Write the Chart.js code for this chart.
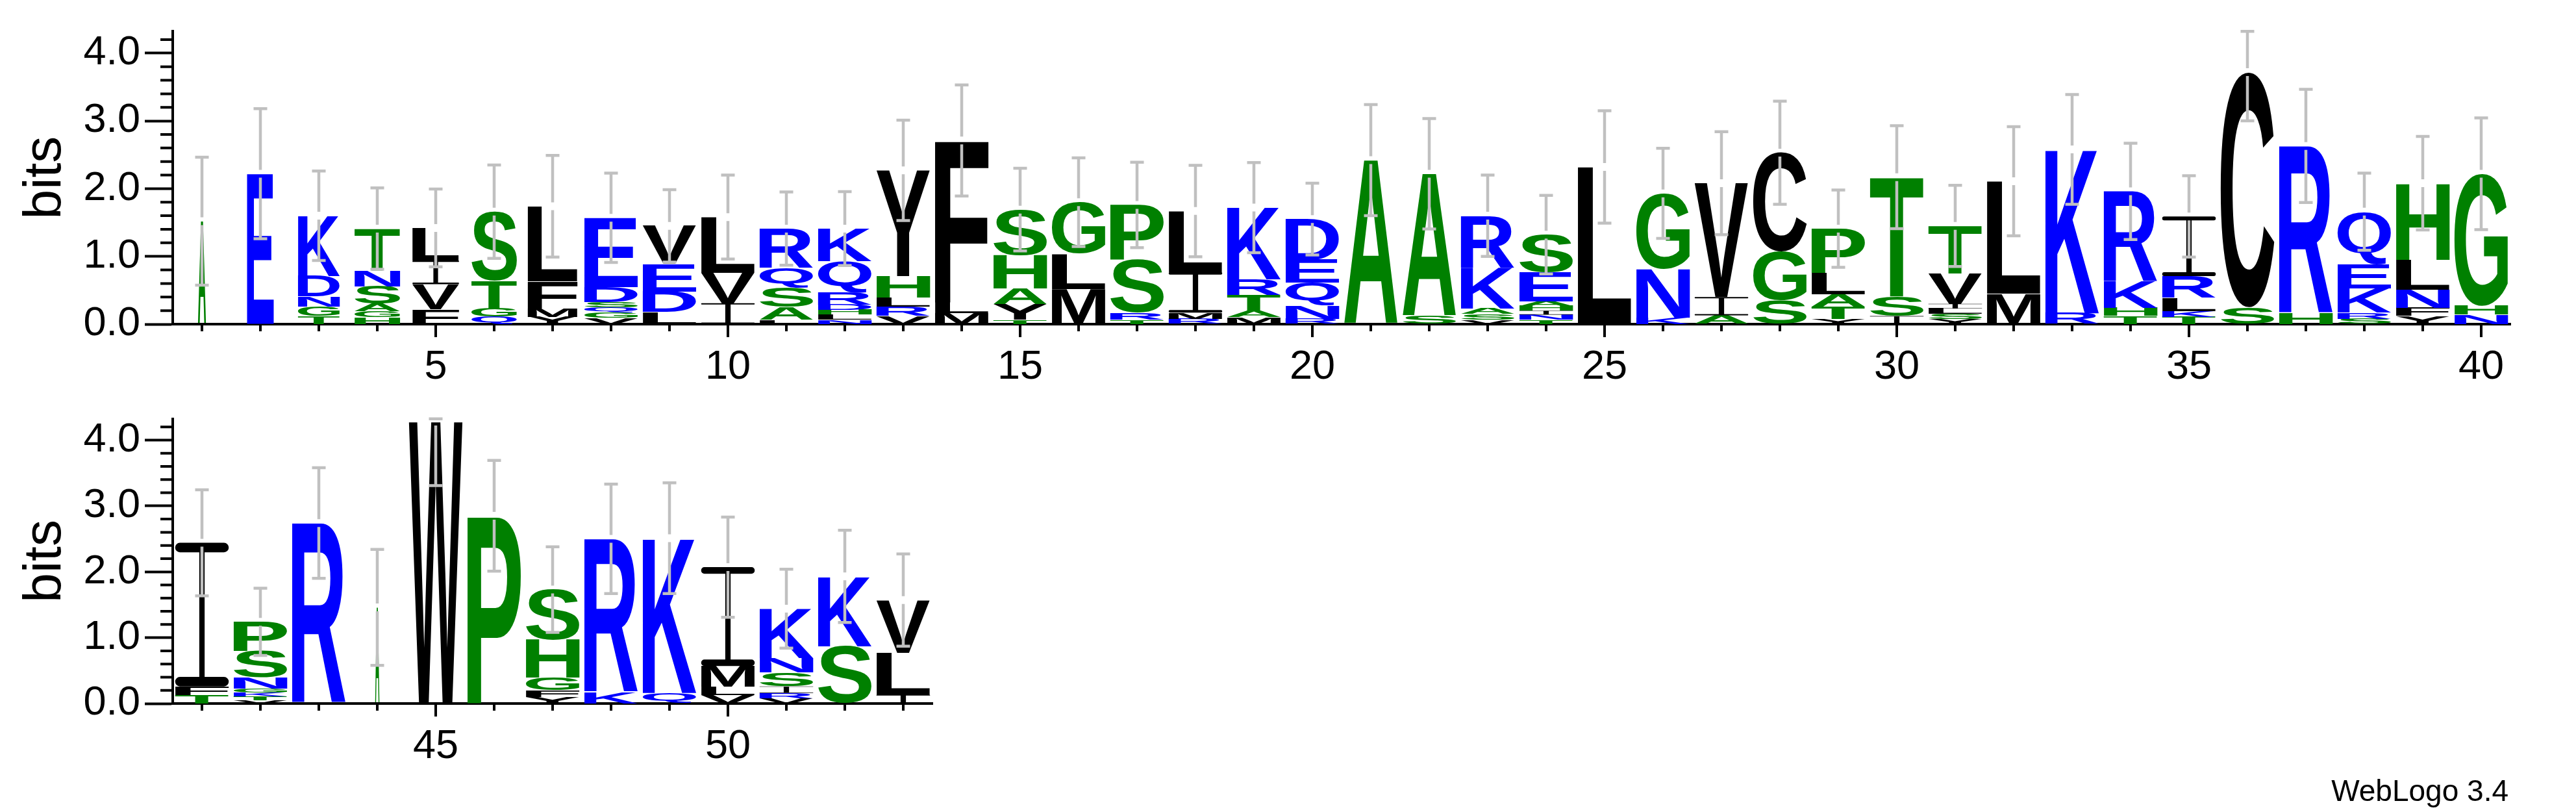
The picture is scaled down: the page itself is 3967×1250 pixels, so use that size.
<!DOCTYPE html>
<html>
<head>
<meta charset="utf-8">
<script src="https://cdn.jsdelivr.net/npm/chart.js@4.4.1/dist/chart.umd.min.js"></script>
<style>
  html, body { margin: 0; padding: 0; background: #fff; }
  #wrap { position: relative; width: 3967px; height: 1250px; overflow: hidden; background: #fff; }
  canvas { position: absolute; left: 0; }
  #topLogo { top: 0; }
  #bottomLogo { top: 600px; }
  #credit { position: absolute; right: 104px; top: 1194px; font: 46px "Liberation Sans", Arial, sans-serif; line-height: 46px; color: #000; }
</style>
</head>
<body>
<div id="wrap">
  <canvas id="topLogo" width="3967" height="610"></canvas>
  <canvas id="bottomLogo" width="3967" height="650"></canvas>
  <div id="credit">WebLogo 3.4</div>
</div>
<script>
// sequence positions (x categories)
const positions = [1,2,3,4,5,6,7,8,9,10,11,12,13,14,15,16,17,18,19,20,
  21,22,23,24,25,26,27,28,29,30,31,32,33,34,35,36,37,38,39,40,
  41,42,43,44,45,46,47,48,49,50,51,52,53];

// residues in each stack, bottom to top
const stackLetters = [
  "A","E","TGNDK","HGASNT","FVIL","QGTS","YMFL","VGQSDE","LDEV","IVL",
  "LASQR","NLHDRQK","VRLHY","MLF","TYAHS","MLG","TRSP","RMIL","MATRK","RNQED",
  "A","SA","VSAKR","TNIHAES","L","KNG","AIV","SGC","YTALP","IST",
  "YSLIVT","ML","RK","THKR","TKLRI","SC","HR","SRKEQ","YFNLH","NHG",
  "TFI","VTKGNSP","R","A","W","P","YFGHS","KR","QK","VLMI",
  "VRISNK","SK","ILV"
];

// height of each residue in bits, same order
const stackBits = [
  [1.52],[2.22],[0.12,0.14,0.15,0.30,0.89],[0.10,0.09,0.11,0.26,0.23,0.62],[0.22,0.37,0.35,0.48],
  [0.11,0.12,0.41,1.02],[0.11,0.12,0.40,1.11],[0.09,0.08,0.08,0.08,0.22,1.02],[0.18,0.30,0.41,0.56],[0.31,0.45,0.82],
  [0.07,0.18,0.29,0.29,0.58],[0.07,0.07,0.07,0.08,0.18,0.46,0.48],[0.12,0.14,0.13,0.32,1.56],[0.16,0.16,2.39],[0.07,0.23,0.23,0.49,0.67],
  [0.52,0.52,0.76],[0.07,0.10,0.78,0.81],[0.08,0.09,0.60,0.90],[0.10,0.10,0.23,0.23,1.06],[0.08,0.20,0.33,0.34,0.60],
  [2.42],[0.12,2.10],[0.07,0.08,0.08,0.60,0.77],[0.07,0.07,0.06,0.07,0.07,0.43,0.55],[2.32],
  [0.10,0.72,1.11],[0.13,0.27,1.68],[0.35,0.72,1.46],[0.08,0.18,0.18,0.32,0.65],[0.12,0.29,1.76],
  [0.08,0.07,0.08,0.07,0.45,0.70],[0.45,1.66],[0.16,2.42],[0.12,0.12,0.39,1.33],[0.11,0.08,0.20,0.32,0.88],
  [0.25,3.47],[0.16,2.47],[0.08,0.09,0.36,0.36,0.77],[0.12,0.12,0.27,0.44,1.13],[0.14,0.13,1.95],
  [0.13,0.13,2.18],[0.05,0.06,0.06,0.06,0.17,0.40,0.44],[2.74],[1.46],[4.28],
  [2.85],[0.10,0.10,0.19,0.58,0.76],[0.17,2.33],[0.16,2.35],[0.13,0.13,0.31,1.50],
  [0.08,0.08,0.10,0.21,0.22,0.75],[0.87,1.06],[0.13,0.64,0.80]
];

// stack width as fraction of a full column (occupancy)
const stackWidth = [
  0.15,0.50,0.78,0.85,0.87,0.85,0.93,1,1,1,
  1,1,1,1,1,1,1,1,1,1,
  1,1,1,1,1,1,1,1,1,1,
  1,1,1,1,1,1,1,1,1,1,
  1,1,1,0.08,1,1,1,1,1,1,
  1,1,1
];

// error bar half-length in bits
const errorBits = [
  0.945,0.96,0.66,0.60,0.575,0.69,0.75,0.66,0.535,0.62,
  0.54,0.545,0.74,0.82,0.61,0.655,0.63,0.675,0.665,0.53,
  0.82,0.815,0.60,0.58,0.83,0.665,0.76,0.76,0.57,0.76,
  0.60,0.805,0.81,0.71,0.60,0.72,0.835,0.57,0.69,0.825,
  0.805,0.51,0.84,0.88,0.97,0.84,0.65,0.83,0.84,0.76,
  0.60,0.70,0.70
];

const yTickValues = [0, 1, 2, 3, 4];
const labelledPositions = [5, 10, 15, 20, 25, 30, 35, 40, 45, 50];
const maxBits = Math.log2(20);

Chart.defaults.font.family = '"Liberation Sans", Arial, sans-serif';
Chart.defaults.color = '#000';

function residueColour(ch) {
  if ("RKDENQ".includes(ch)) return '#0000ff';
  if ("SGHTAP".includes(ch)) return '#008000';
  return '#000000';
}

// the logo's I is a thin stem between two rounded bars
function drawI(ctx, left, top, w, h) {
  const bar = h * 0.066;
  const stem = w * 0.1;
  ctx.save();
  ctx.fillStyle = '#000';
  ctx.beginPath();
  if (ctx.roundRect && bar > 1) {
    ctx.roundRect(left, top, w, bar, bar / 2);
    ctx.roundRect(left, top + h - bar, w, bar, bar / 2);
  } else {
    ctx.rect(left, top, w, Math.max(bar, 0.6));
    ctx.rect(left, top + h - Math.max(bar, 0.6), w, Math.max(bar, 0.6));
  }
  ctx.rect(left + (w - stem) / 2, top, stem, h);
  ctx.fill();
  ctx.restore();
}

const glyphBoxes = {};
function drawGlyph(ctx, ch, left, top, w, h) {
  if (ch === 'I') { drawI(ctx, left, top, w, h); return; }
  ctx.save();
  ctx.font = 'bold 200px "Liberation Sans", Arial';
  if (!glyphBoxes[ch]) glyphBoxes[ch] = ctx.measureText(ch);
  const m = glyphBoxes[ch];
  const inkW = m.actualBoundingBoxLeft + m.actualBoundingBoxRight;
  const inkH = m.actualBoundingBoxAscent + m.actualBoundingBoxDescent;
  ctx.translate(left, top);
  ctx.scale(w / inkW, h / inkH);
  ctx.textAlign = 'left';
  ctx.textBaseline = 'alphabetic';
  ctx.fillStyle = residueColour(ch);
  ctx.fillText(ch, m.actualBoundingBoxLeft, m.actualBoundingBoxAscent);
  ctx.restore();
}

const logoPlugin = {
  id: 'logoGlyphs',
  afterDatasetsDraw(chart) {
    const ctx = chart.ctx;
    const labels = chart.data.labels;
    chart.data.datasets.forEach((ds, k) => {
      chart.getDatasetMeta(k).data.forEach((bar, j) => {
        const ch = ds.letters[j];
        if (!ch || ds.data[j] == null) return;
        const p = bar.getProps(['x', 'y', 'base', 'width'], true);
        const w = p.width * stackWidth[labels[j] - 1];
        const h = p.base - p.y;
        if (h < 0.5) return;
        drawGlyph(ctx, ch, p.x - w / 2, p.y, w, h);
      });
    });

    // error bars
    const xs = chart.scales.x, ys = chart.scales.y;
    ctx.save();
    ctx.strokeStyle = '#c0c0c0';
    ctx.lineWidth = 4.5;
    labels.forEach((pos, j) => {
      const total = stackBits[pos - 1].reduce((a, b) => a + b, 0);
      const err = errorBits[pos - 1];
      const xc = xs.getPixelForValue(j);
      const yHi = ys.getPixelForValue(Math.min(total + err, maxBits));
      const yLo = ys.getPixelForValue(Math.max(total - err, 0));
      const yMid = ys.getPixelForValue(total);
      const gap = 6;
      ctx.beginPath();
      if (yMid - gap > yHi) { ctx.moveTo(xc, yHi); ctx.lineTo(xc, yMid - gap); }
      ctx.moveTo(xc, yMid + gap); ctx.lineTo(xc, yLo);
      ctx.moveTo(xc - 10.5, yHi); ctx.lineTo(xc + 10.5, yHi);
      ctx.moveTo(xc - 10.5, yLo); ctx.lineTo(xc + 10.5, yLo);
      ctx.stroke();
    });
    ctx.restore();
  },
  afterDraw(chart) {
    const ctx = chart.ctx;
    const xs = chart.scales.x, ys = chart.scales.y;
    const area = chart.chartArea;
    ctx.save();
    ctx.strokeStyle = '#000';
    ctx.lineWidth = 4;
    ctx.beginPath();
    // minor y ticks every 0.2 bits
    for (let i = 1; i * 0.2 < maxBits; i++) {
      if (i % 5 === 0) continue;
      const y = ys.getPixelForValue(i * 0.2);
      ctx.moveTo(area.left - 19, y);
      ctx.lineTo(area.left, y);
    }
    // x ticks at every position
    chart.data.labels.forEach((pos, j) => {
      const x = xs.getPixelForValue(j);
      const len = labelledPositions.includes(pos) ? 20 : 11;
      ctx.moveTo(x, area.bottom);
      ctx.lineTo(x, area.bottom + len);
    });
    ctx.stroke();
    ctx.restore();
  }
};

const pxPerBit = 104.3;

function makeLogo(canvasId, from, to, geo) {
  const labels = positions.slice(from, to);
  const depth = Math.max(...labels.map(p => stackLetters[p - 1].length));
  const datasets = [];
  for (let k = 0; k < depth; k++) {
    datasets.push({
      label: 'level ' + (k + 1),
      data: labels.map(p => stackBits[p - 1][k] ?? null),
      letters: labels.map(p => stackLetters[p - 1][k] || ''),
      backgroundColor: 'rgba(0,0,0,0)',
      borderWidth: 0,
      stack: 'logo',
      barPercentage: 0.917,
      categoryPercentage: 1.0
    });
  }
  const canvas = document.getElementById(canvasId);
  const topPad = geo.bottom - maxBits * pxPerBit;
  return new Chart(canvas, {
    type: 'bar',
    data: { labels, datasets },
    options: {
      responsive: false,
      animation: false,
      devicePixelRatio: 1,
      events: [],
      layout: { padding: { left: 0, right: canvas.width - geo.right, top: topPad, bottom: 0 } },
      plugins: { legend: { display: false }, tooltip: { enabled: false } },
      scales: {
        x: {
          stacked: true,
          offset: true,
          grid: { display: false, drawTicks: false },
          border: { display: true, width: 4, color: '#000' },
          ticks: {
            autoSkip: false, maxRotation: 0, minRotation: 0, padding: 29,
            font: { size: 63 }, color: '#000',
            callback: (v, i) => labelledPositions.includes(labels[i]) ? String(labels[i]) : ''
          },
          afterFit: s => { s.height = canvas.height - geo.bottom; }
        },
        y: {
          stacked: true,
          min: 0,
          max: maxBits,
          grid: { drawOnChartArea: false, drawTicks: true, tickLength: 43, tickWidth: 4, tickColor: '#000' },
          border: { display: true, width: 4, color: '#000' },
          ticks: {
            stepSize: 1, includeBounds: false, padding: 7,
            font: { size: 63 }, color: '#000',
            callback: v => yTickValues.includes(v) ? v.toFixed(1) : ''
          },
          title: { display: true, text: 'bits', font: { size: 82 }, color: '#000', padding: { top: 21, bottom: 0 } },
          afterFit: s => { s.width = geo.left; }
        }
      }
    },
    plugins: [logoPlugin]
  });
}

makeLogo('topLogo', 0, 40, { left: 266, right: 3866, bottom: 499 });
makeLogo('bottomLogo', 40, 53, { left: 266, right: 1436, bottom: 483 });
</script>
</body>
</html>
